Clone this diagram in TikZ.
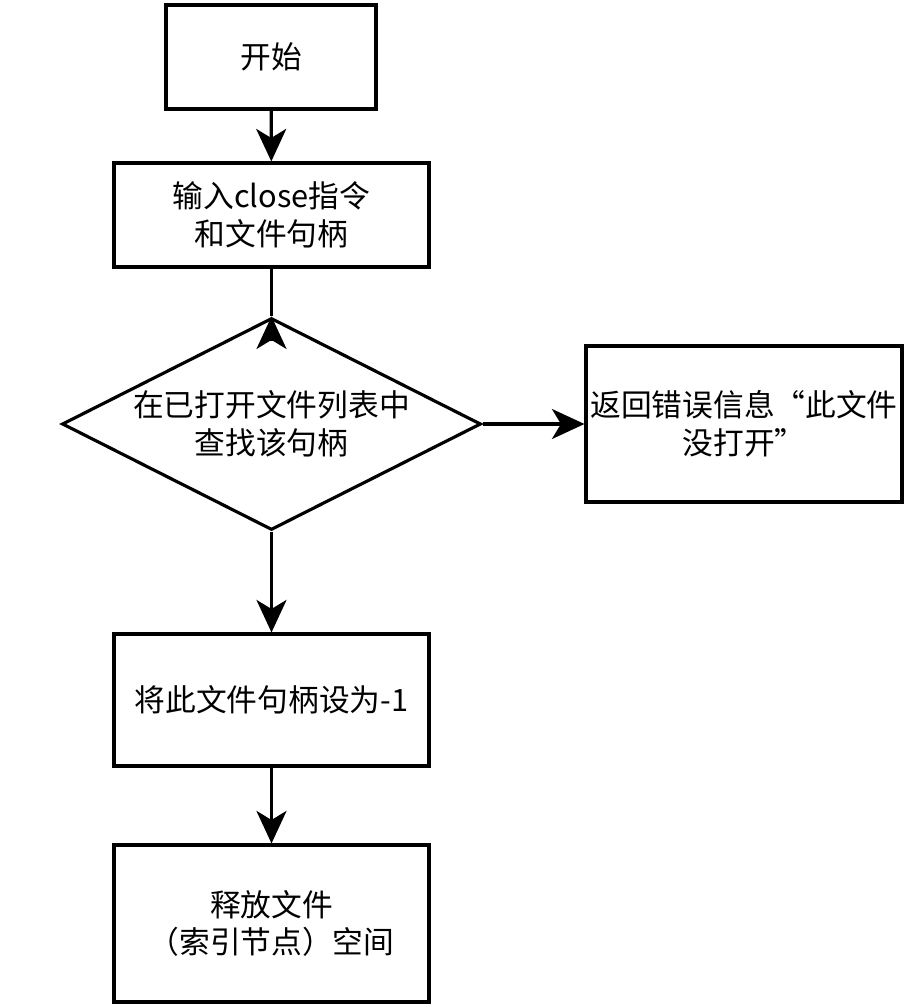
\documentclass[tikz,border=0pt]{standalone}
\usepackage{fontspec}
\setmainfont{Noto Sans CJK SC}
\usetikzlibrary{arrows.meta,positioning,shapes.geometric}
\definecolor{flowblack}{RGB}{0,0,0}
\tikzset{
  procbox/.style={draw=flowblack, rectangle, line width=1.8pt, minimum width=6.3cm,
                  minimum height=2.08cm, align=center, inner sep=2pt,
                  font=\fontsize{17.5}{21.5}\selectfont},
  decbox/.style={procbox, diamond, aspect=1.98, minimum width=8.38cm,
                 minimum height=4.24cm, inner sep=0pt},
  arrow/.style={line width=1.8pt, -{Stealth[length=6.5mm, width=6mm, inset=1.8mm]}},
  plainline/.style={line width=1.8pt},
}

\begin{document}
\begin{tikzpicture}[x=0.02cm, y=-0.02cm]
\useasboundingbox (0,0) rectangle (911,1008);

% ---------------- main column ----------------
\node[procbox, minimum width=4.2cm] (start) at (271,57) {开始};
\node[procbox] (input) at (271.5,215) {输入close指令\\和文件句柄};
\node[decbox] (find) at (271.5,424) {在已打开文件列表中\\查找该句柄};
\node[procbox, minimum height=2.64cm] (reset) at (271.5,700) {将此文件句柄设为-1};
\node[procbox, minimum height=3.14cm] (release) at (271.5,923.5)
  {释放文件\\（索引节点）空间};

% ---------------- side branch ----------------
\node[procbox, minimum width=6.32cm, minimum height=3.12cm] (error) at (744,424)
  {返回错误信息“此文件\\没打开”};

% connectors
\draw[arrow] (start) -- (input);
\draw[plainline] (input) -- (find);
% the tip at the top corner of the diamond points up
\draw[arrow] ([yshift=-5mm]find.north) -- (find.north);
\draw[arrow] (find) -- (error);
\draw[arrow] (find) -- (reset);
\draw[arrow] (reset) -- (release);
\end{tikzpicture}
\end{document}
